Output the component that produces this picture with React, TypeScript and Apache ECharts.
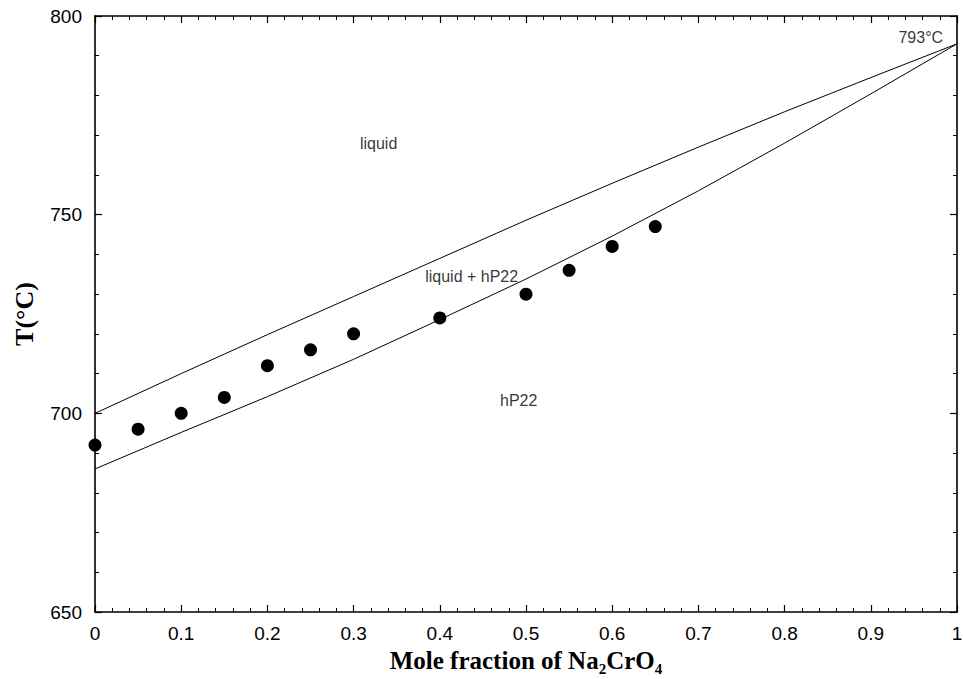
import React, { useEffect, useRef } from "react";
import * as echarts from "echarts";

// Mole fraction grid used by the phase boundaries
const boundaryX = [0, 0.1, 0.2, 0.3, 0.4, 0.5, 0.6, 0.7, 0.8, 0.9, 1.0];
// Liquidus (upper curve), °C
const liquidusT = [700, 710, 719.8, 729.4, 739, 748.6, 757.9, 767, 775.9, 784.5, 793];
// Solidus (lower curve), °C
const solidusT = [686, 695.2, 704.2, 713.6, 723.6, 733.8, 744.6, 756, 768, 780.4, 793];

// Experimental points
const expX = [0, 0.05, 0.1, 0.15, 0.2, 0.25, 0.3, 0.4, 0.5, 0.55, 0.6, 0.65];
const expT = [692, 696, 700, 704, 712, 716, 720, 724, 730, 736, 742, 747];

// Region annotations (text, mole fraction, temperature)
const noteText = ["liquid", "liquid + hP22", "hP22", "793°C"];
const noteX = [0.329, 0.437, 0.4915, 0.958];
const noteT = [768, 734.4, 703.2, 794.5];

const xTicks = { min: 0, max: 1, interval: 0.1 };
const yTicks = { min: 650, max: 800, interval: 50 };

export default function App() {
  const ref = useRef<HTMLDivElement>(null);
  useEffect(() => {
    if (!ref.current) return;
    const chart = echarts.init(ref.current, null, { renderer: "svg" });
    const axisLine = { show: true, onZero: false, lineStyle: { color: "#000", width: 1.6 } };
    const axisTick = { show: true, inside: true, length: 7, lineStyle: { color: "#000", width: 1.2 } };
    const minorTick = { show: true, splitNumber: 5, length: 4, lineStyle: { color: "#000", width: 1 } };
    const tickFont = { color: "#000", fontSize: 19, fontFamily: "Liberation Sans, Arial, sans-serif" };
    chart.setOption({
      animation: false,
      backgroundColor: "#fff",
      grid: { left: 95, top: 16, right: 6, bottom: 67, containLabel: false, outerBoundsMode: "none" },
      xAxis: [
        {
          type: "value",
          ...xTicks,
          position: "bottom",
          axisLine,
          axisTick,
          minorTick,
          splitLine: { show: false },
          axisLabel: { ...tickFont, margin: 12 },
          name: "{b|Mole fraction of Na}{s|2}{b|CrO}{s|4}",
          nameLocation: "middle",
          nameGap: 34,
          nameTextStyle: {
            rich: {
              b: { fontSize: 25, fontWeight: "bold", fontFamily: "Liberation Serif, Times New Roman, serif", color: "#000", lineHeight: 28 },
              s: { fontSize: 15, fontWeight: "bold", fontFamily: "Liberation Serif, Times New Roman, serif", color: "#000", verticalAlign: "bottom", lineHeight: 28, padding: [0, 0, -2, 0] },
            },
          },
        },
        {
          type: "value",
          ...xTicks,
          position: "top",
          axisLine,
          axisTick,
          minorTick,
          splitLine: { show: false },
          axisLabel: { show: false },
        },
      ],
      yAxis: [
        {
          type: "value",
          ...yTicks,
          position: "left",
          axisLine,
          axisTick,
          minorTick,
          splitLine: { show: false },
          axisLabel: { ...tickFont, margin: 13 },
          name: "T(°C)",
          nameLocation: "middle",
          nameGap: 58,
          nameTextStyle: {
            fontSize: 26,
            fontWeight: "bold",
            fontFamily: "Liberation Serif, Times New Roman, serif",
            color: "#000",
          },
        },
        {
          type: "value",
          ...yTicks,
          position: "right",
          axisLine,
          axisTick,
          minorTick,
          splitLine: { show: false },
          axisLabel: { show: false },
        },
      ],
      series: [
        {
          type: "line",
          data: boundaryX.map((x, i) => [x, liquidusT[i]]),
          showSymbol: false,
          symbol: "none",
          lineStyle: { color: "#000", width: 1 },
          silent: true,
        },
        {
          type: "line",
          data: boundaryX.map((x, i) => [x, solidusT[i]]),
          showSymbol: false,
          symbol: "none",
          lineStyle: { color: "#000", width: 1 },
          silent: true,
        },
        {
          type: "scatter",
          data: expX.map((x, i) => [x, expT[i]]),
          symbol: "circle",
          symbolSize: 13,
          itemStyle: { color: "#000", opacity: 1 },
          clip: false,
        },
        {
          type: "scatter",
          data: noteX.map((x, i) => ({ value: [x, noteT[i]], name: noteText[i] })),
          symbolSize: 0,
          silent: true,
          label: {
            show: true,
            position: "inside",
            formatter: (p: any) => p.name,
            color: "#000",
            fontSize: 16,
            fontFamily: "Liberation Sans, Arial, sans-serif",
          },
        },
      ],
    });
    return () => chart.dispose();
  }, []);
  return <div ref={ref} style={{ width: 963, height: 679, position: "absolute", left: 0, top: 0 }} />;
}
